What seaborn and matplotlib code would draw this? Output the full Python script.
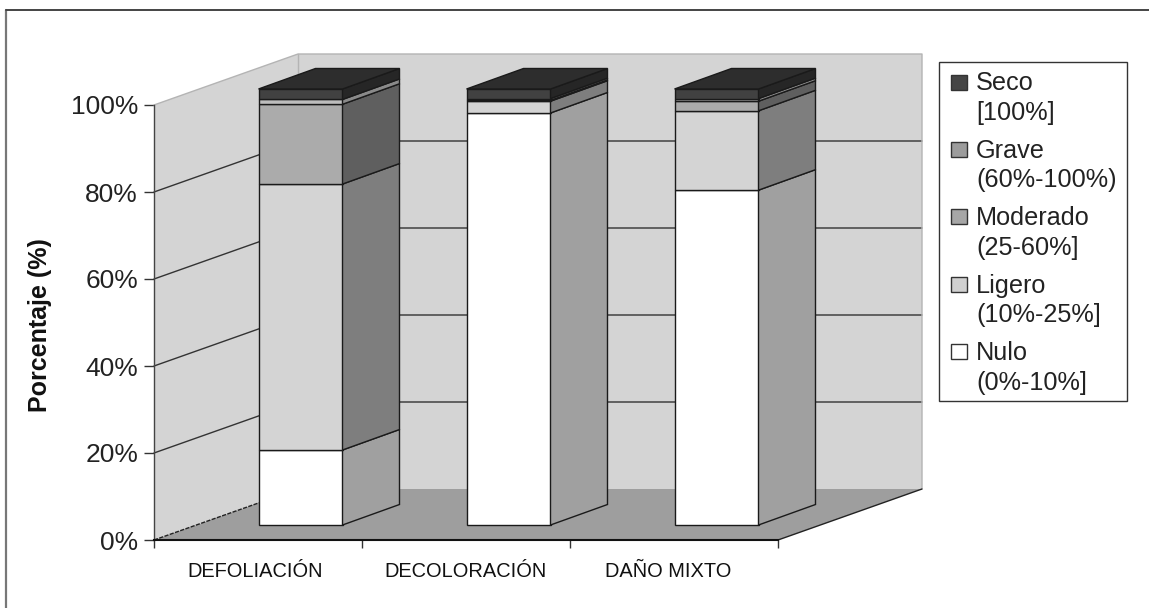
import matplotlib
matplotlib.use('Agg')
import matplotlib.pyplot as plt
import pandas as pd
import seaborn as sns
from matplotlib.patches import Rectangle

# datos (% por categoria)
categorias = ['DEFOLIACIÓN', 'DECOLORACIÓN', 'DAÑO MIXTO']
niveles = ['Nulo', 'Ligero', 'Moderado', 'Grave', 'Seco']
rangos = ['(0%-10%]', '(10%-25%]', '(25-60%]', '(60%-100%)', '[100%]']
nulo = [17.2, 94.5, 76.8]
ligero = [61.0, 2.7, 18.2]
moderado = [18.3, 0.2, 2.2]
grave = [1.1, 0.4, 0.6]
seco = [2.4, 2.2, 2.2]
ticks_y = [0, 20, 40, 60, 80, 100]

color_frente = ['#ffffff', '#d4d4d4', '#ababab', '#bdbdbd', '#414141']
color_lado = ['#a0a0a0', '#7e7e7e', '#5f5f5f', '#8a8a8a', '#262626']
color_leyenda = ['#ffffff', '#d0d0d0', '#a6a6a6', '#9c9c9c', '#454545']
color_techo = '#2d2d2d'
color_pared = '#d4d4d4'
color_suelo = '#9e9e9e'
borde = '#1a1a1a'

W, H = 1149, 608
sns.set_theme(style='white')
plt.rcParams['font.family'] = ['Liberation Sans', 'DejaVu Sans']


def caja(x0, y0, x1, y1):
    # rectangulo en pixeles de la imagen (y hacia abajo) -> coordenadas de figura
    return [x0 / W, 1 - y1 / H, (x1 - x0) / W, (y1 - y0) / H]


fig = plt.figure(figsize=(W / 100, H / 100), dpi=100, facecolor='white')
fig.add_artist(plt.Line2D([6 / W, 6 / W], [0, 1 - 10 / H], color='#777777', lw=1.6))
fig.add_artist(plt.Line2D([6 / W, 1], [1 - 10 / H, 1 - 10 / H], color='#444444', lw=1.4))

# ==========================================
# plano frontal: ejes, paredes y suelo
# ==========================================
ax = fig.add_axes(caja(154, 105, 778, 540), facecolor='none')
ax.set_xlim(-0.5, 2.5)
ax.set_ylim(0, 100)
prof_x, prof_y = 144 / 208, 51 / 4.35

x0, x1 = -0.5, 2.5
ax.fill([x0, x0 + prof_x, x0 + prof_x, x0], [0, prof_y, 100 + prof_y, 100],
        color=color_pared, lw=0, clip_on=False, zorder=1)
ax.fill([x0 + prof_x, x1 + prof_x, x1 + prof_x, x0 + prof_x], [prof_y, prof_y, 100 + prof_y, 100 + prof_y],
        color=color_pared, lw=0, clip_on=False, zorder=1)
ax.fill([x0, x1, x1 + prof_x, x0 + prof_x], [0, 0, prof_y, prof_y],
        color=color_suelo, lw=0, clip_on=False, zorder=1.5)

for v in ticks_y[1:-1]:
    ax.plot([x0, x0 + prof_x, x1 + prof_x], [v, v + prof_y, v + prof_y], color='#333333', lw=1, clip_on=False, zorder=2)
ax.plot([x0, x0 + prof_x, x1 + prof_x, x1 + prof_x], [100, 100 + prof_y, 100 + prof_y, prof_y],
        color='#b4b4b4', lw=1, clip_on=False, zorder=2)
ax.plot([x0 + prof_x, x0 + prof_x], [prof_y, 100 + prof_y], color='#b4b4b4', lw=1, clip_on=False, zorder=2)
ax.plot([x0, x0 + prof_x], [0, prof_y], color='#222222', lw=1, ls=(0, (3, 1)), clip_on=False, zorder=2)
ax.plot([x1, x1 + prof_x], [0, prof_y], color='#222222', lw=1, clip_on=False, zorder=2)

ax.set_yticks(ticks_y)
ax.set_yticklabels([f'{v}%' for v in ticks_y], fontsize=19, color='#222222')
ax.set_xticks([-0.5, 0.5, 1.5, 2.5])
ax.set_xticklabels([])
# las etiquetas del original no estan del todo centradas
ax.set_xticks([-0.015, 1.0, 1.97], minor=True)
ax.set_xticklabels(categorias, minor=True, fontsize=14.4, color='#111111')
ax.tick_params(axis='y', length=7.5, width=1, color='#333333', pad=4, left=True)
ax.tick_params(axis='x', which='major', length=6, width=1, color='#333333', bottom=True)
ax.tick_params(axis='x', which='minor', length=0, pad=15.5)
ax.set_ylabel('Porcentaje (%)', fontsize=18, fontweight='bold', color='#111111')
ax.yaxis.set_label_coords(-0.164, 0.495)
sns.despine(ax=ax, top=True, right=True)
ax.spines['left'].set_color('#444444')
ax.spines['left'].set_linewidth(1)
ax.spines['bottom'].set_color('#111111')
ax.spines['bottom'].set_linewidth(1.5)
for s in ax.spines.values():
    s.set_zorder(3)

# ==========================================
# barras apiladas, desplazadas hacia el fondo
# ==========================================
ax_b = fig.add_axes(caja(196.5, 89, 820.5, 525), facecolor='none')
df = pd.DataFrame({'categoria': categorias, 'Nulo': nulo, 'Ligero': ligero,
                   'Moderado': moderado, 'Grave': grave, 'Seco': seco})
ancho = 84 / 208
lado_x, lado_y = 57 / 208, 20.5 / 4.36

base = [0.0, 0.0, 0.0]
for n, nivel in enumerate(niveles):
    sns.barplot(data=df, x='categoria', y=nivel, order=categorias, color=color_frente[n], saturation=1,
                width=ancho, bottom=base, errorbar=None, edgecolor=borde, linewidth=1, ax=ax_b, zorder=3)
    for i, valor in enumerate(df[nivel]):
        xd = i + ancho / 2
        ax_b.fill([xd, xd + lado_x, xd + lado_x, xd],
                  [base[i], base[i] + lado_y, base[i] + valor + lado_y, base[i] + valor],
                  facecolor=color_lado[n], edgecolor=borde, lw=1, clip_on=False, zorder=3)
    base = [b + v for b, v in zip(base, df[nivel])]

for i, tope in enumerate(base):
    xi, xd = i - ancho / 2, i + ancho / 2
    ax_b.fill([xi, xd, xd + lado_x, xi + lado_x], [tope, tope, tope + lado_y, tope + lado_y],
              facecolor=color_techo, edgecolor=borde, lw=1, clip_on=False, zorder=3)

ax_b.set_xlim(-0.5, 2.5)
ax_b.set_ylim(0, 100)
ax_b.axis('off')
for p in ax_b.patches:
    p.set_clip_on(False)

# ==========================================
# leyenda (muestra alineada con la primera linea de cada texto)
# ==========================================
ax_l = fig.add_axes([0, 0, 1, 1], facecolor='none')
ax_l.set_xlim(0, W)
ax_l.set_ylim(H, 0)
ax_l.axis('off')
ax_l.add_patch(Rectangle((939, 61.5), 188, 339, facecolor='white', edgecolor='#333333', lw=1))
for k, n in enumerate(reversed(range(len(niveles)))):
    y = 82 + k * 67.4
    ax_l.add_patch(Rectangle((951, y - 7.5), 15.5, 15, facecolor=color_leyenda[n], edgecolor='#333333', lw=1))
    ax_l.text(976, y + 1.5, niveles[n], fontsize=18.2, va='center', ha='left', color='#222222')
    ax_l.text(976, y + 31, rangos[n], fontsize=18.2, va='center', ha='left', color='#222222')

fig.savefig('out.png', dpi=100)
